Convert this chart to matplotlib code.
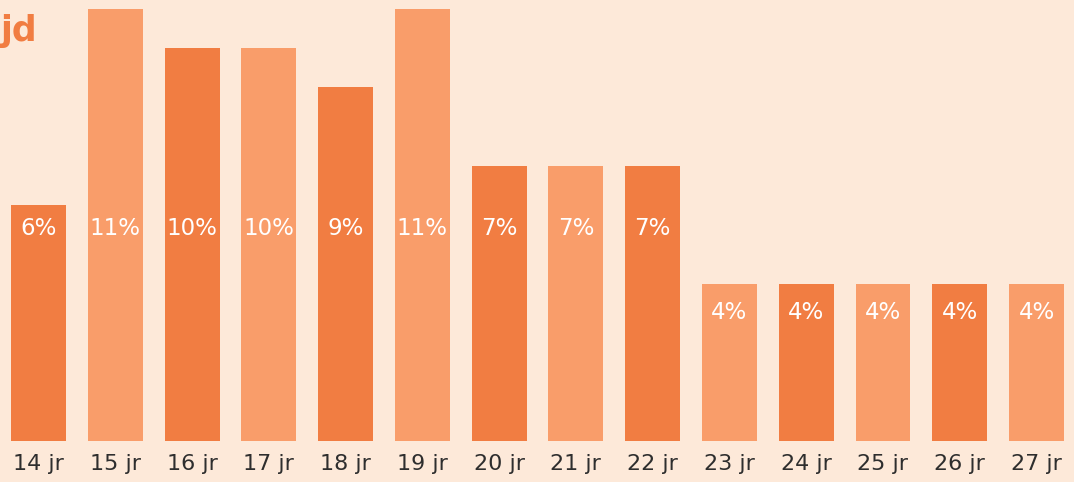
import matplotlib
matplotlib.use('AGG')
import matplotlib.pyplot as plt

ages = ['14 jr', '15 jr', '16 jr', '17 jr', '18 jr', '19 jr', '20 jr',
        '21 jr', '22 jr', '23 jr', '24 jr', '25 jr', '26 jr', '27 jr']
shares = [6, 11, 10, 10, 9, 11, 7, 7, 7, 4, 4, 4, 4, 4]

bg = '#FDE9D9'
dark = '#F17D42'
light = '#F99D6A'

plt.rcParams['font.family'] = ['DejaVu Sans']

fig = plt.figure(figsize=(10.74, 4.82), dpi=100, facecolor=bg)
ax = fig.add_axes([0, 41 / 482, 1, 441 / 482])
ax.set_facecolor(bg)

x = list(range(len(ages)))
colors = [dark if i % 2 == 0 else light for i in x]
ax.bar(x, shares, width=0.716, color=colors)

# labels sit at a fixed height, or just below the top of short bars
label_y = 5.4
for i, v in zip(x, shares):
    y = label_y if v > label_y + 0.5 else v - 0.72
    ax.text(i, y, f'{v}%', ha='center', va='center',
            color='white', fontsize=16.5)

ax.set_xlim(-0.5015, 13.488)
ax.set_ylim(0, 441 / 39.3)
ax.set_xticks(x)
ax.set_xticklabels(ages, fontsize=16, color='#2E2E2E')
ax.tick_params(axis='x', length=0, pad=9)
ax.set_yticks([])
for s in ax.spines.values():
    s.set_visible(False)

fig.text(0.0, 1 - 31 / 482, 'jd', color=dark, fontsize=25, fontweight='bold',
         ha='left', va='center')

fig.savefig('out.png', facecolor=bg)
